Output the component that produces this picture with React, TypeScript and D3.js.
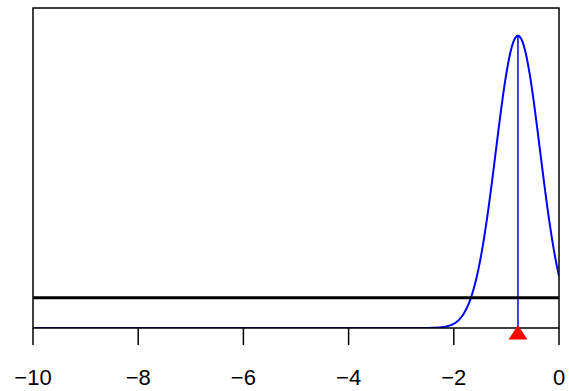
import React from "react";
import * as d3 from "d3";

const xTicks = [-10, -8, -6, -4, -2, 0];
const xDomain = [-10, 0];
const yDomain = [0, 1.04];
const densityMean = -0.78;
const densitySd = 0.42;
const thresholdLevel = 0.098;
const markerX = -0.78;

const W = 569;
const H = 391;
const m = { left: 33, right: 10, top: 8, bottom: 63 };

export default function App() {
  const x = d3.scaleLinear().domain(xDomain).range([m.left, W - m.right]);
  const y = d3.scaleLinear().domain(yDomain).range([H - m.bottom, m.top]);
  const pdf = (v: number) =>
    Math.exp(-((v - densityMean) ** 2) / (2 * densitySd * densitySd)) /
    (densitySd * Math.sqrt(2 * Math.PI));
  const xs = d3.range(xDomain[0], xDomain[1] + 0.0001, 0.01);
  const line = d3
    .line<number>()
    .x((d) => x(d))
    .y((d) => y(pdf(d)));
  const x0 = x(markerX);
  const yb = y(0);
  const tri = `M${x0},${yb - 3} L${x0 + 9.5},${yb + 11.5} L${x0 - 9.5},${yb + 11.5} Z`;
  return (
    <svg width={W} height={H} style={{ position: "absolute", left: 0, top: 0 }}>
      <defs>
        <clipPath id="clip">
          <rect x={m.left} y={m.top} width={W - m.left - m.right} height={H - m.top - m.bottom} />
        </clipPath>
      </defs>
      <rect x={0} y={0} width={W} height={H} fill="white" />
      <g clipPath="url(#clip)">
        <path d={line(xs) || ""} fill="none" stroke="#0000ff" strokeWidth={2} />
        <line x1={x0} x2={x0} y1={y(pdf(markerX))} y2={yb} stroke="#0000ff" strokeWidth={1.5} />
        <line
          x1={m.left}
          x2={W - m.right}
          y1={y(thresholdLevel)}
          y2={y(thresholdLevel)}
          stroke="black"
          strokeWidth={3}
        />
      </g>
      <rect
        x={m.left}
        y={m.top}
        width={W - m.left - m.right}
        height={H - m.top - m.bottom}
        fill="none"
        stroke="black"
        strokeWidth={1.5}
      />
      {xTicks.map((t) => (
        <g key={t}>
          <line x1={x(t)} x2={x(t)} y1={yb} y2={yb + 17} stroke="black" strokeWidth={1.5} />
          <text
            x={x(t)}
            y={385}
            textAnchor="middle"
            fontFamily="Liberation Sans, Arial, sans-serif"
            fontSize={22}
          >
            {t < 0 ? "\u2212" + Math.abs(t) : String(t)}
          </text>
        </g>
      ))}
      <path d={tri} fill="red" />
    </svg>
  );
}
